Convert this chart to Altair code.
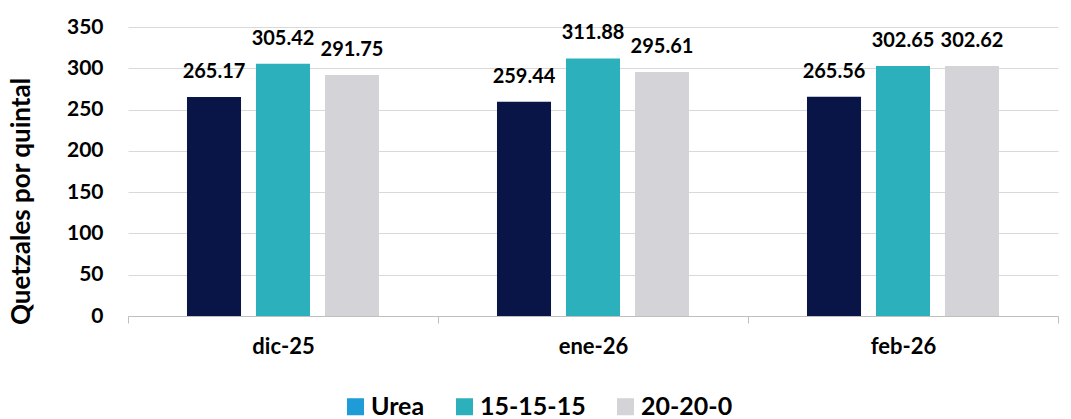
import altair as alt
import pandas as pd

months = ["dic-25", "ene-26", "feb-26"]
series = ["Urea", "15-15-15", "20-20-0"]
urea = [265.17, 259.44, 265.56]
npk = [305.42, 311.88, 302.65]
sa = [291.75, 295.61, 302.62]

bar_colors = ["#0A1547", "#2CB1BC", "#D3D3D8"]
legend_colors = ["#1F9BD7", "#2CB1BC", "#D3D3D8"]

rows = []
for i, m in enumerate(months):
    for s, vals in zip(series, [urea, npk, sa]):
        rows.append({"mes": m, "serie": s, "leyenda": s, "valor": vals[i], "etiqueta": f"{vals[i]:.2f}"})
df = pd.DataFrame(rows)

FONT = "Lato"

x_enc = alt.X(
    "mes:N",
    sort=months,
    title=None,
    scale=alt.Scale(paddingInner=0, paddingOuter=0),
    axis=alt.Axis(
        labelAngle=0,
        labelFont=FONT,
        labelFontSize=22,
        labelFontWeight="bold",
        labelColor="#000000",
        labelPadding=13,
        domainColor="#BFBFBF",
        tickColor="#BFBFBF",
        tickSize=7,
        tickBand="extent",
        grid=False,
    ),
)
xoff = alt.XOffset(
    "serie:N",
    sort=series,
    scale=alt.Scale(paddingInner=0.217, paddingOuter=0.855),
)
y_enc = alt.Y(
    "valor:Q",
    scale=alt.Scale(domain=[0, 350], nice=False),
    axis=alt.Axis(
        values=[0, 50, 100, 150, 200, 250, 300, 350],
        title="Quetzales por quintal",
        titleFont=FONT,
        titleFontSize=26,
        titleFontWeight="bold",
        titleColor="#000000",
        titleAngle=-90,
        titleX=-107,
        titleY=174,
        titleAlign="center",
        titleBaseline="middle",
        labelFont=FONT,
        labelFontSize=21,
        labelFontWeight="bold",
        labelColor="#000000",
        labelPadding=25,
        domain=False,
        ticks=False,
        grid=True,
        gridColor="#D9D9D9",
        gridWidth=1,
    ),
)

bars = alt.Chart(df).mark_bar().encode(
    x=x_enc,
    xOffset=xoff,
    y=y_enc,
    color=alt.Color("serie:N", sort=series, scale=alt.Scale(domain=series, range=bar_colors), legend=None),
)

labels = alt.Chart(df).mark_text(
    font=FONT, fontSize=20, fontWeight="bold", color="#000000", baseline="alphabetic", dy=-19
).encode(
    x=alt.X("mes:N", sort=months),
    xOffset=alt.XOffset("serie:N", sort=series),
    y="valor:Q",
    text="etiqueta:N",
)

legend_layer = alt.Chart(df).mark_square(opacity=0).encode(
    x=alt.X("mes:N", sort=months),
    y="valor:Q",
    fill=alt.Fill(
        "leyenda:N",
        sort=series,
        scale=alt.Scale(domain=series, range=legend_colors),
        legend=alt.Legend(
            title=None,
            orient="none",
            direction="horizontal",
            legendX=215,
            legendY=367,
            symbolType="square",
            symbolSize=289,
            symbolOpacity=1,
            symbolStrokeWidth=0,
            labelFont=FONT,
            labelFontSize=25,
            labelFontWeight="bold",
            labelColor="#000000",
            labelOffset=3,
            columnPadding=27,
        ),
    ),
)

chart = (
    alt.layer(bars, labels, legend_layer)
    .resolve_legend(color="independent", fill="independent")
    .properties(
        width=930,
        height=289,
        autosize=alt.AutoSizeParams(type="none"),
        padding={"left": 128, "top": 27, "right": 13, "bottom": 103},
        background="white",
    )
    .configure_view(stroke=None)
)

chart.save("out.html", embed_options={"renderer": "svg", "actions": False})
